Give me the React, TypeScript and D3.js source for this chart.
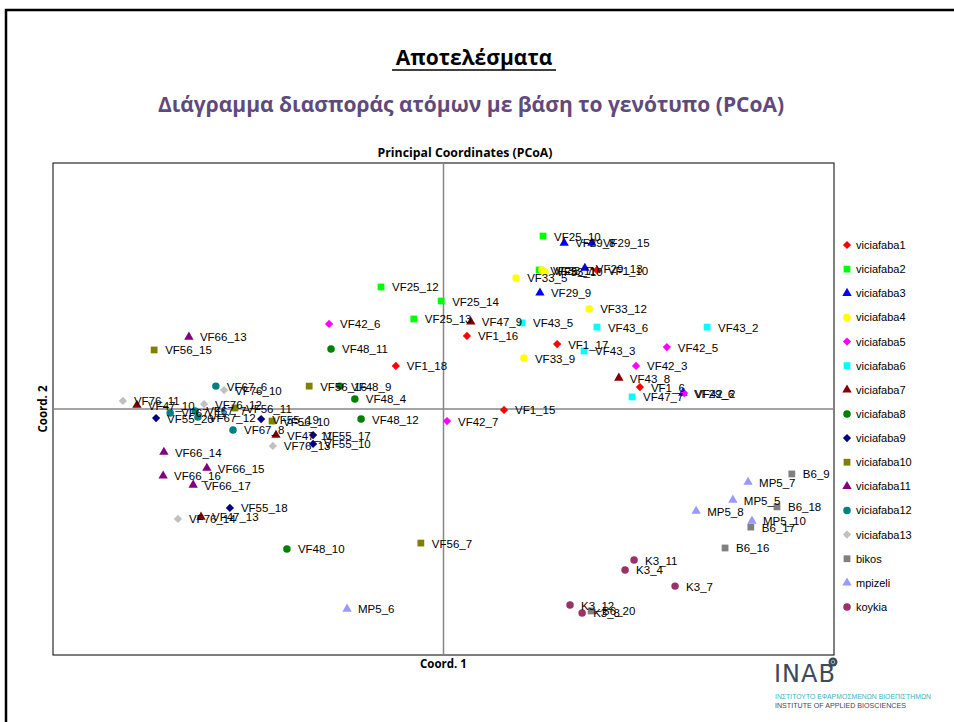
import * as d3 from "d3";

// PCoA scatter: groups, then the points for each (label, coord 1, coord 2)
const GROUPS = [
  "viciafaba1", "viciafaba2", "viciafaba3", "viciafaba4", "viciafaba5", "viciafaba6", "viciafaba7", "viciafaba8",
  "viciafaba9", "viciafaba10", "viciafaba11", "viciafaba12", "viciafaba13", "bikos", "mpizeli", "koykia",
];

type Pt = [string, number, number];

const viciafaba1: Pt[] = [["VF1_18", -0.122, 0.175], ["VF1_16", 0.06, 0.297], ["VF1_17", 0.291, 0.264], ["VF1_15", 0.155, -0.004], ["VF1_6", 0.503, 0.089], ["VF1_10", 0.393, 0.565]];
const viciafaba2: Pt[] = [["VF25_10", 0.255, 0.703], ["VF25_12", -0.16, 0.496], ["VF25_14", -0.006, 0.439], ["VF25_13", -0.076, 0.366], ["VF25_11", 0.245, 0.565]];
const viciafaba3: Pt[] = [["VF29_8", 0.309, 0.675], ["VF29_15", 0.38, 0.675], ["VF29_13", 0.362, 0.573], ["VF29_9", 0.247, 0.472], ["VF29_6", 0.613, 0.065]];
const viciafaba4: Pt[] = [["VF33_5", 0.186, 0.533], ["VF33_12", 0.373, 0.407], ["VF33_9", 0.206, 0.207], ["VF33_7", 0.252, 0.565], ["VF33_10", 0.26, 0.557]];
const viciafaba5: Pt[] = [["VF42_6", -0.293, 0.346], ["VF42_5", 0.572, 0.252], ["VF42_3", 0.493, 0.175], ["VF42_7", 0.009, -0.049], ["VF42_2", 0.616, 0.065]];
const viciafaba6: Pt[] = [["VF43_5", 0.201, 0.35], ["VF43_6", 0.393, 0.333], ["VF43_2", 0.675, 0.333], ["VF43_3", 0.36, 0.236], ["VF47_7", 0.483, 0.049]];
const viciafaba7: Pt[] = [["VF47_9", 0.07, 0.354], ["VF43_8", 0.449, 0.126], ["VF47_10", -0.785, 0.016], ["VF47_11", -0.429, -0.106], ["VF47_13", -0.621, -0.439]];
const viciafaba8: Pt[] = [["VF48_11", -0.288, 0.244], ["VF48_9", -0.265, 0.093], ["VF48_4", -0.227, 0.041], ["VF48_12", -0.211, -0.041], ["VF48_10", -0.401, -0.569]];
const viciafaba9: Pt[] = [["VF55_20", -0.736, -0.037], ["VF55_19", -0.467, -0.041], ["VF55_17", -0.334, -0.106], ["VF55_10", -0.334, -0.142], ["VF55_18", -0.547, -0.402]];
const viciafaba10: Pt[] = [["VF56_15", -0.741, 0.24], ["VF56_16", -0.344, 0.093], ["VF56_11", -0.534, 0.004], ["VF56_10", -0.439, -0.049], ["VF56_7", -0.058, -0.545]];
const viciafaba11: Pt[] = [["VF66_13", -0.652, 0.293], ["VF66_14", -0.716, -0.175], ["VF66_15", -0.606, -0.24], ["VF66_16", -0.718, -0.272], ["VF66_17", -0.641, -0.309]];
const viciafaba12: Pt[] = [["VF67_6", -0.583, 0.093], ["VF67_8", -0.539, -0.085], ["VF67_11", -0.7, -0.016], ["VF67_7", -0.636, -0.008], ["VF67_12", -0.629, -0.033]];
const viciafaba13: Pt[] = [["VF76_11", -0.821, 0.033], ["VF76_10", -0.562, 0.077], ["VF76_12", -0.613, 0.02], ["VF76_13", -0.437, -0.15], ["VF76_14", -0.68, -0.447]];
const bikos: Pt[] = [["B6_9", 0.892, -0.264], ["B6_18", 0.854, -0.398], ["B6_17", 0.787, -0.48], ["B6_16", 0.721, -0.565], ["B6_20", 0.378, -0.821]];
const mpizeli: Pt[] = [["MP5_7", 0.78, -0.297], ["MP5_5", 0.741, -0.37], ["MP5_8", 0.647, -0.415], ["MP5_10", 0.79, -0.455], ["MP5_6", -0.247, -0.813]];
const koykia: Pt[] = [["K3_11", 0.488, -0.614], ["K3_4", 0.465, -0.654], ["K3_7", 0.593, -0.72], ["K3_12", 0.324, -0.797], ["K3_8", 0.355, -0.829]];

const SERIES = [viciafaba1, viciafaba2, viciafaba3, viciafaba4, viciafaba5, viciafaba6, viciafaba7, viciafaba8, viciafaba9, viciafaba10, viciafaba11, viciafaba12, viciafaba13, bikos, mpizeli, koykia];

const COLORS = ["#ff0000", "#00ff00", "#0000ff", "#ffff00", "#ff00ff", "#00ffff", "#800000", "#008000", "#000080", "#808000", "#800080", "#008080", "#c0c0c0", "#808080", "#9999ff", "#993366"];

// Excel-style diamond: same width and height
const symbolRhomb: d3.SymbolType = {
  draw(context, size) {
    const r = Math.sqrt(size / 2);
    context.moveTo(0, -r);
    context.lineTo(r, 0);
    context.lineTo(0, r);
    context.lineTo(-r, 0);
    context.closePath();
  },
};
const SHAPES = [symbolRhomb, d3.symbolSquare, d3.symbolTriangle, d3.symbolCircle];
const SIZES = [34, 46, 38, 44];

const WIDTH = 954;
const HEIGHT = 722;
const PLOT = { left: 53, right: 834, top: 163, bottom: 655 };
const LABEL_FONT = "'Liberation Sans', Arial, sans-serif";
const TITLE_FONT = "'Open Sans', 'Noto Sans', sans-serif";

function symbolPath(groupIndex: number) {
  const kind = groupIndex === 13 ? 1 : groupIndex === 14 ? 2 : groupIndex === 15 ? 3 : groupIndex % 4;
  return d3.symbol().type(SHAPES[kind]).size(SIZES[kind])() ?? "";
}

export default function App() {
  const x = d3.scaleLinear().domain([-1, 1]).range([PLOT.left, PLOT.right]);
  const y = d3.scaleLinear().domain([-1, 1]).range([PLOT.bottom, PLOT.top]);
  const legendY = d3.scaleLinear().domain([0, GROUPS.length - 1]).range([245, 607]);

  const points = SERIES.flatMap((series, g) => series.map(([label, cx, cy]) => ({ label, g, cx, cy })));

  return (
    <svg width={WIDTH} height={HEIGHT} style={{ position: "absolute", left: 0, top: 0 }} fontFamily={LABEL_FONT}>
      <rect x="0" y="0" width={WIDTH} height={HEIGHT} fill="#fff" />
      <rect x="6" y="10" width={WIDTH + 10} height={HEIGHT + 10} fill="none" stroke="#000" strokeWidth="2.5" />

      <text x="474" y="65" textAnchor="middle" fontFamily={TITLE_FONT} fontWeight="700" fontSize="21" fill="#000">
        Αποτελέσματα
      </text>
      <line x1="392" x2="556" y1="70" y2="70" stroke="#000" strokeWidth="1.5" />
      <text x="471" y="112" textAnchor="middle" fontFamily={TITLE_FONT} fontWeight="700" fontSize="21" fill="#604a7b">
        Διάγραμμα διασποράς ατόμων με βάση το γενότυπο (PCoA)
      </text>
      <text x="465" y="157" textAnchor="middle" fontFamily={TITLE_FONT} fontWeight="700" fontSize="12.3" fill="#000">
        Principal Coordinates (PCoA)
      </text>

      <rect x={PLOT.left} y={PLOT.top} width={PLOT.right - PLOT.left} height={PLOT.bottom - PLOT.top} fill="none" stroke="#000" strokeWidth="1" />
      <line x1={x(0)} x2={x(0)} y1={PLOT.top} y2={PLOT.bottom} stroke="#868686" strokeWidth="1.5" />
      <line x1={PLOT.left} x2={PLOT.right} y1={y(0)} y2={y(0)} stroke="#868686" strokeWidth="1.5" />

      {points.map((p) => (
        <path key={`m-${p.label}`} d={symbolPath(p.g)} transform={`translate(${x(p.cx)},${y(p.cy)})`} fill={COLORS[p.g]} />
      ))}
      {points.map((p) => (
        <text key={`t-${p.label}`} x={x(p.cx) + 11} y={y(p.cy) + 4.5} fontSize="11.5" fill="#000">
          {p.label}
        </text>
      ))}

      <text x={x(0)} y="668" textAnchor="middle" fontFamily={TITLE_FONT} fontWeight="700" fontSize="11.5" fill="#000">
        Coord. 1
      </text>
      <text transform={`translate(47 ${y(0)}) rotate(-90)`} textAnchor="middle" fontFamily={TITLE_FONT} fontWeight="700" fontSize="11.5" fill="#000">
        Coord. 2
      </text>

      {GROUPS.map((name, i) => (
        <g key={name} transform={`translate(0 ${legendY(i)})`}>
          <path d={symbolPath(i)} transform="translate(847 0)" fill={COLORS[i]} />
          <text x="856" y="4" fontSize="11" fill="#000">
            {name}
          </text>
        </g>
      ))}

      <g>
        <text x="774" y="682" fontFamily="'DejaVu Sans', sans-serif" fontSize="24" fill="#3d4a57" letterSpacing="1">
          INAB
        </text>
        <circle cx="833" cy="662" r="4.5" fill="#3d4a57" />
        <circle cx="833" cy="662" r="1.8" fill="none" stroke="#9fd3da" strokeWidth="0.8" />
        <text x="775" y="699" fontSize="7.5" fill="#3fb0bf" textLength="156" lengthAdjust="spacingAndGlyphs">
          ΙΝΣΤΙΤΟΥΤΟ ΕΦΑΡΜΟΣΜΕΝΩΝ ΒΙΟΕΠΙΣΤΗΜΩΝ
        </text>
        <text x="775" y="708" fontSize="7.5" fill="#3d4a57" textLength="131" lengthAdjust="spacingAndGlyphs">
          INSTITUTE OF APPLIED BIOSCIENCES
        </text>
      </g>
    </svg>
  );
}
